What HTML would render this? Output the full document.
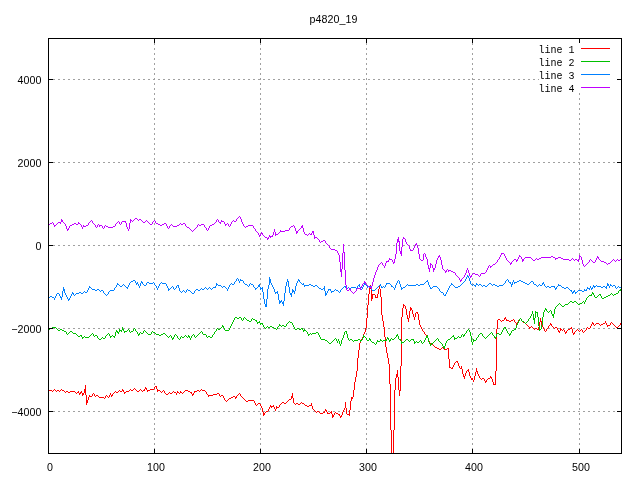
<!DOCTYPE html>
<html><head><meta charset="utf-8"><title>p4820_19</title>
<style>html,body{margin:0;padding:0;background:#fff;overflow:hidden;}svg{display:block;will-change:transform;}text{font-family:"Liberation Sans",sans-serif;font-size:10.67px;letter-spacing:0.07px;fill:#000;}.k{font-family:"Liberation Mono",monospace;font-size:10px;letter-spacing:0;}</style></head><body>
<svg width="640" height="480" viewBox="0 0 640 480">
<rect width="640" height="480" fill="#fff"/>
<g stroke="#a0a0a0" stroke-width="1" stroke-dasharray="2 3" stroke-dashoffset="0" shape-rendering="crispEdges" fill="none">
<path d="M53 79.5 H621"/>
<path d="M53 162.5 H621"/>
<path d="M53 245.5 H621"/>
<path d="M53 328.5 H621"/>
<path d="M53 411.5 H621"/>
<path d="M154.5 450 V39"/>
<path d="M260.5 450 V39"/>
<path d="M366.5 450 V39"/>
<path d="M472.5 450 V39"/>
<path d="M579.5 450 V39"/>
</g>
<rect x="539" y="43" width="76" height="50" fill="#fff"/>
<path d="M49.5 390v1M50.5 390v1M51.5 390v1M52.5 391v1M53.5 390v1M54.5 389v1M55.5 390v1M56.5 391v1M57.5 390v1M58.5 390v1M59.5 391v1M60.5 390v1M61.5 389v1M62.5 390v1M63.5 390v1M64.5 391v1M65.5 392v1M66.5 391v1M67.5 391v1M68.5 392v1M69.5 392v1M70.5 391v1M71.5 391v1M72.5 391v1M73.5 391v1M74.5 391v1M75.5 392v1M76.5 393v1M77.5 392v1M78.5 391v2M79.5 393v2M80.5 392v2M81.5 391v2M82.5 393v3M83.5 393v2M84.5 389v4M85.5 385v10M86.5 395v10M87.5 400v3M88.5 397v3M89.5 395v2M90.5 396v1M91.5 396v1M92.5 394v2M93.5 393v1M94.5 394v2M95.5 396v1M96.5 395v1M97.5 395v1M98.5 396v1M99.5 397v1M100.5 397v1M101.5 397v1M102.5 397v1M103.5 397v1M104.5 398v1M105.5 396v2M106.5 395v1M107.5 396v1M108.5 397v1M109.5 395v2M110.5 393v2M111.5 395v2M112.5 394v2M113.5 393v1M114.5 392v1M115.5 391v1M116.5 392v1M117.5 392v1M118.5 391v1M119.5 390v1M120.5 391v1M121.5 391v1M122.5 389v2M123.5 390v2M124.5 392v2M125.5 392v1M126.5 391v1M127.5 391v1M128.5 391v1M129.5 390v1M130.5 389v1M131.5 390v1M132.5 390v1M133.5 389v1M134.5 388v1M135.5 389v1M136.5 390v1M137.5 391v1M138.5 391v1M139.5 390v1M140.5 389v1M141.5 390v1M142.5 391v1M143.5 390v1M144.5 389v2M145.5 387v2M146.5 388v2M147.5 390v2M148.5 390v1M149.5 390v1M150.5 389v1M151.5 389v1M152.5 389v1M153.5 389v1M154.5 387v2M155.5 386v1M156.5 386v3M157.5 389v3M158.5 390v1M159.5 390v1M160.5 391v1M161.5 392v1M162.5 391v1M163.5 390v1M164.5 391v2M165.5 393v1M166.5 394v1M167.5 394v1M168.5 393v1M169.5 392v1M170.5 393v1M171.5 393v1M172.5 392v1M173.5 391v1M174.5 392v1M175.5 392v1M176.5 393v2M177.5 391v2M178.5 392v1M179.5 393v1M180.5 391v2M181.5 392v1M182.5 393v1M183.5 392v1M184.5 391v1M185.5 390v1M186.5 390v1M187.5 390v1M188.5 391v1M189.5 391v1M190.5 392v1M191.5 392v2M192.5 394v2M193.5 393v2M194.5 391v2M195.5 391v1M196.5 391v1M197.5 390v1M198.5 390v1M199.5 391v1M200.5 390v1M201.5 389v1M202.5 390v1M203.5 390v1M204.5 390v1M205.5 391v1M206.5 392v2M207.5 394v1M208.5 395v2M209.5 395v1M210.5 395v1M211.5 395v1M212.5 395v1M213.5 394v1M214.5 394v1M215.5 394v1M216.5 394v1M217.5 393v1M218.5 393v1M219.5 394v2M220.5 396v1M221.5 395v1M222.5 395v1M223.5 396v2M224.5 398v2M225.5 400v1M226.5 401v1M227.5 400v1M228.5 399v1M229.5 398v1M230.5 398v1M231.5 397v1M232.5 397v1M233.5 396v1M234.5 396v1M235.5 397v2M236.5 396v2M237.5 395v1M238.5 394v1M239.5 393v1M240.5 394v2M241.5 396v1M242.5 397v1M243.5 398v1M244.5 399v1M245.5 400v1M246.5 401v1M247.5 401v1M248.5 400v1M249.5 400v1M250.5 400v1M251.5 400v1M252.5 400v1M253.5 400v1M254.5 401v2M255.5 403v2M256.5 405v1M257.5 404v1M258.5 403v1M259.5 403v1M260.5 404v2M261.5 406v2M262.5 408v4M263.5 412v4M264.5 413v2M265.5 412v1M266.5 411v1M267.5 411v1M268.5 409v2M269.5 407v2M270.5 405v2M271.5 406v2M272.5 406v1M273.5 405v2M274.5 407v2M275.5 409v2M276.5 406v3M277.5 407v1M278.5 407v1M279.5 405v2M280.5 404v1M281.5 403v1M282.5 402v1M283.5 402v1M284.5 403v1M285.5 403v1M286.5 402v1M287.5 401v1M288.5 400v1M289.5 399v1M290.5 399v1M291.5 396v3M292.5 393v5M293.5 398v5M294.5 403v1M295.5 404v1M296.5 403v1M297.5 403v1M298.5 404v1M299.5 404v1M300.5 403v1M301.5 402v1M302.5 403v1M303.5 403v1M304.5 404v1M305.5 405v1M306.5 405v1M307.5 406v1M308.5 406v1M309.5 405v1M310.5 405v1M311.5 403v3M312.5 406v3M313.5 409v1M314.5 410v1M315.5 411v1M316.5 412v1M317.5 411v1M318.5 411v1M319.5 412v1M320.5 413v1M321.5 413v1M322.5 413v1M323.5 412v1M324.5 411v2M325.5 409v2M326.5 410v2M327.5 412v2M328.5 413v1M329.5 413v1M330.5 412v1M331.5 411v3M332.5 414v4M333.5 415v2M334.5 413v2M335.5 412v1M336.5 413v1M337.5 413v1M338.5 414v1M339.5 414v2M340.5 416v2M341.5 415v2M342.5 412v3M343.5 410v2M344.5 408v2M345.5 402v6M346.5 408v6M347.5 414v1M348.5 414v1M349.5 410v6M350.5 401v9M351.5 397v4M352.5 397v2M353.5 390v7M354.5 382v8M355.5 377v5M356.5 371v6M357.5 358v13M358.5 350v8M359.5 343v7M360.5 341v2M361.5 339v2M362.5 337v2M363.5 334v3M364.5 332v2M365.5 328v4M366.5 318v10M367.5 305v13M368.5 294v11M369.5 288v6M370.5 285v4M371.5 289v12M372.5 294v5M373.5 294v1M374.5 294v1M375.5 295v3M376.5 297v1M377.5 294v4M378.5 289v5M379.5 286v3M380.5 289v8M381.5 297v18M382.5 315v6M383.5 321v6M384.5 327v10M385.5 337v10M386.5 347v6M387.5 353v5M388.5 358v6M389.5 364v20M390.5 384v46M391.5 430v23M393.5 430v23M394.5 390v40M395.5 378v12M396.5 374v4M397.5 370v7M398.5 377v13M399.5 390v6M400.5 366v25M401.5 317v49M402.5 308v9M403.5 304v4M404.5 305v1M405.5 306v3M406.5 309v6M407.5 315v4M408.5 318v4M409.5 311v7M410.5 307v4M411.5 308v2M412.5 310v4M413.5 314v3M414.5 317v3M415.5 313v4M416.5 312v1M417.5 312v2M418.5 314v6M419.5 320v5M420.5 325v2M421.5 327v2M422.5 329v2M423.5 331v1M424.5 332v2M425.5 334v1M426.5 335v1M427.5 336v2M428.5 338v3M429.5 341v3M430.5 343v1M431.5 344v1M432.5 344v1M433.5 345v1M434.5 346v1M435.5 347v1M436.5 347v1M437.5 348v1M438.5 348v1M439.5 349v1M440.5 349v1M441.5 348v1M442.5 347v1M443.5 348v1M444.5 349v1M445.5 349v1M446.5 349v1M447.5 348v1M448.5 348v11M449.5 359v9M450.5 367v1M451.5 368v1M452.5 367v2M453.5 365v2M454.5 363v2M455.5 362v1M456.5 361v1M457.5 361v2M458.5 363v3M459.5 366v2M460.5 368v1M461.5 366v3M462.5 369v5M463.5 374v3M464.5 376v3M465.5 373v3M466.5 371v2M467.5 370v1M468.5 369v3M469.5 372v4M470.5 376v2M471.5 378v2M472.5 378v2M473.5 380v2M474.5 376v4M475.5 372v4M476.5 368v4M477.5 371v3M478.5 374v2M479.5 376v2M480.5 378v1M481.5 379v1M482.5 378v1M483.5 378v1M484.5 379v2M485.5 381v2M486.5 380v2M487.5 379v1M488.5 378v1M489.5 378v1M490.5 376v2M491.5 377v2M492.5 379v3M493.5 382v3M494.5 384v1M495.5 371v14M496.5 329v42M497.5 320v9M498.5 319v1M499.5 319v1M500.5 320v1M501.5 321v1M502.5 320v1M503.5 320v1M504.5 318v2M505.5 317v2M506.5 319v2M507.5 320v1M508.5 320v1M509.5 321v1M510.5 321v1M511.5 320v1M512.5 320v1M513.5 319v1M514.5 320v2M515.5 322v1M516.5 323v2M517.5 322v2M518.5 320v2M519.5 319v1M520.5 318v1M521.5 319v2M522.5 321v1M523.5 322v1M524.5 322v1M525.5 323v1M526.5 324v1M527.5 325v1M528.5 326v1M529.5 327v2M530.5 327v1M531.5 326v1M532.5 327v1M533.5 328v1M534.5 329v1M535.5 328v1M536.5 328v1M537.5 329v1M538.5 327v3M539.5 322v5M540.5 318v4M541.5 321v4M542.5 325v2M543.5 327v2M544.5 329v2M545.5 331v1M546.5 329v2M547.5 328v1M548.5 326v2M549.5 325v1M550.5 323v2M551.5 324v2M552.5 326v1M553.5 327v1M554.5 328v1M555.5 327v1M556.5 327v1M557.5 328v2M558.5 330v2M559.5 331v2M560.5 328v3M561.5 329v1M562.5 330v1M563.5 329v1M564.5 330v2M565.5 332v2M566.5 331v2M567.5 330v1M568.5 329v1M569.5 329v1M570.5 328v1M571.5 327v2M572.5 329v4M573.5 333v2M574.5 332v2M575.5 331v1M576.5 330v1M577.5 329v1M578.5 330v1M579.5 331v1M580.5 330v1M581.5 329v1M582.5 330v2M583.5 332v1M584.5 331v1M585.5 330v1M586.5 328v2M587.5 327v1M588.5 328v1M589.5 328v1M590.5 326v2M591.5 324v2M592.5 322v2M593.5 323v2M594.5 325v1M595.5 324v1M596.5 323v1M597.5 323v1M598.5 323v1M599.5 324v1M600.5 325v1M601.5 324v1M602.5 324v1M603.5 323v1M604.5 323v1M605.5 321v2M606.5 323v2M607.5 325v2M608.5 325v1M609.5 325v1M610.5 323v2M611.5 322v1M612.5 323v1M613.5 324v1M614.5 325v1M615.5 326v1M616.5 327v1M617.5 327v1M618.5 326v1M619.5 325v1M620.5 323v2" fill="none" stroke="#ff0000" stroke-width="1" shape-rendering="crispEdges"/>
<path d="M49.5 329v1M50.5 328v1M51.5 328v1M52.5 327v1M53.5 327v1M54.5 327v1M55.5 327v1M56.5 328v1M57.5 329v1M58.5 330v1M59.5 330v1M60.5 329v1M61.5 329v1M62.5 330v1M63.5 330v1M64.5 331v1M65.5 331v1M66.5 332v2M67.5 334v1M68.5 333v1M69.5 332v1M70.5 331v1M71.5 331v1M72.5 332v1M73.5 333v1M74.5 333v1M75.5 333v1M76.5 334v1M77.5 335v1M78.5 336v1M79.5 336v1M80.5 335v1M81.5 335v2M82.5 337v2M83.5 337v1M84.5 336v1M85.5 337v1M86.5 337v1M87.5 337v1M88.5 337v1M89.5 336v1M90.5 335v1M91.5 334v1M92.5 333v1M93.5 334v2M94.5 336v1M95.5 335v1M96.5 335v1M97.5 336v2M98.5 338v1M99.5 339v1M100.5 339v1M101.5 338v1M102.5 337v1M103.5 338v1M104.5 338v1M105.5 336v2M106.5 335v1M107.5 334v1M108.5 333v1M109.5 334v2M110.5 336v2M111.5 336v1M112.5 335v1M113.5 336v1M114.5 336v2M115.5 332v4M116.5 330v2M117.5 331v2M118.5 332v2M119.5 329v3M120.5 330v1M121.5 330v2M122.5 327v3M123.5 329v2M124.5 331v2M125.5 331v1M126.5 331v1M127.5 330v1M128.5 329v1M129.5 330v2M130.5 332v1M131.5 331v1M132.5 331v1M133.5 329v2M134.5 328v1M135.5 329v2M136.5 331v1M137.5 332v2M138.5 334v2M139.5 333v2M140.5 332v1M141.5 333v1M142.5 333v1M143.5 331v2M144.5 330v1M145.5 331v1M146.5 332v1M147.5 333v1M148.5 334v1M149.5 334v1M150.5 334v1M151.5 332v2M152.5 331v1M153.5 332v1M154.5 332v1M155.5 333v1M156.5 334v1M157.5 334v1M158.5 334v1M159.5 335v1M160.5 335v1M161.5 334v1M162.5 334v1M163.5 333v1M164.5 333v1M165.5 334v1M166.5 335v1M167.5 336v1M168.5 337v1M169.5 336v1M170.5 335v1M171.5 336v2M172.5 338v2M173.5 337v2M174.5 335v2M175.5 334v1M176.5 335v1M177.5 336v2M178.5 338v1M179.5 339v1M180.5 337v2M181.5 336v1M182.5 337v1M183.5 337v1M184.5 336v1M185.5 335v1M186.5 336v1M187.5 337v1M188.5 335v2M189.5 336v2M190.5 338v2M191.5 336v2M192.5 335v1M193.5 334v1M194.5 335v2M195.5 337v1M196.5 336v1M197.5 335v1M198.5 334v1M199.5 333v1M200.5 332v1M201.5 331v1M202.5 332v2M203.5 334v1M204.5 334v1M205.5 334v1M206.5 335v2M207.5 337v1M208.5 336v1M209.5 336v1M210.5 337v1M211.5 337v1M212.5 335v2M213.5 334v1M214.5 332v2M215.5 331v1M216.5 329v2M217.5 328v1M218.5 329v1M219.5 329v1M220.5 328v1M221.5 327v1M222.5 325v2M223.5 326v2M224.5 328v2M225.5 330v1M226.5 330v1M227.5 330v1M228.5 330v1M229.5 328v2M230.5 326v2M231.5 324v2M232.5 322v2M233.5 320v2M234.5 318v2M235.5 317v1M236.5 317v1M237.5 318v1M238.5 318v1M239.5 317v1M240.5 317v1M241.5 318v2M242.5 320v1M243.5 318v2M244.5 317v1M245.5 318v1M246.5 319v1M247.5 320v1M248.5 320v1M249.5 321v1M250.5 321v1M251.5 319v2M252.5 318v1M253.5 319v1M254.5 319v1M255.5 320v1M256.5 320v2M257.5 322v2M258.5 322v1M259.5 321v2M260.5 323v2M261.5 323v1M262.5 323v2M263.5 325v2M264.5 327v1M265.5 328v1M266.5 327v1M267.5 326v1M268.5 327v1M269.5 327v1M270.5 326v1M271.5 326v1M272.5 327v1M273.5 327v1M274.5 328v1M275.5 328v1M276.5 329v1M277.5 327v2M278.5 326v1M279.5 324v2M280.5 325v1M281.5 326v1M282.5 325v1M283.5 325v1M284.5 326v1M285.5 326v1M286.5 324v2M287.5 323v1M288.5 322v1M289.5 321v1M290.5 322v1M291.5 322v1M292.5 323v2M293.5 325v2M294.5 327v2M295.5 329v1M296.5 329v1M297.5 328v1M298.5 328v1M299.5 329v1M300.5 329v1M301.5 328v1M302.5 328v2M303.5 330v2M304.5 329v2M305.5 330v1M306.5 331v1M307.5 332v2M308.5 334v2M309.5 334v1M310.5 333v1M311.5 334v1M312.5 333v1M313.5 333v1M314.5 333v1M315.5 333v1M316.5 332v1M317.5 332v1M318.5 333v2M319.5 335v2M320.5 337v2M321.5 339v1M322.5 339v1M323.5 339v1M324.5 339v1M325.5 340v1M326.5 340v1M327.5 341v1M328.5 342v1M329.5 343v1M330.5 343v1M331.5 342v1M332.5 341v1M333.5 340v1M334.5 339v1M335.5 338v1M336.5 339v2M337.5 341v2M338.5 339v2M339.5 341v3M340.5 344v2M341.5 340v4M342.5 338v2M343.5 335v3M344.5 332v3M345.5 331v1M346.5 331v3M347.5 334v4M348.5 338v2M349.5 340v1M350.5 339v1M351.5 339v1M352.5 340v1M353.5 341v1M354.5 340v1M355.5 340v1M356.5 340v1M357.5 340v1M358.5 339v1M359.5 339v1M360.5 340v2M361.5 340v1M362.5 338v2M363.5 335v3M364.5 336v1M365.5 337v1M366.5 338v2M367.5 340v1M368.5 340v1M369.5 338v2M370.5 339v2M371.5 341v1M372.5 342v1M373.5 342v1M374.5 343v1M375.5 344v1M376.5 342v2M377.5 340v2M378.5 341v1M379.5 341v1M380.5 339v2M381.5 340v1M382.5 341v1M383.5 340v1M384.5 340v1M385.5 340v1M386.5 339v2M387.5 337v2M388.5 338v2M389.5 340v2M390.5 339v2M391.5 338v1M392.5 339v1M393.5 339v1M394.5 338v1M395.5 337v1M396.5 335v2M397.5 334v2M398.5 336v3M399.5 339v1M400.5 339v2M401.5 341v3M402.5 342v1M403.5 342v1M404.5 341v1M405.5 340v1M406.5 339v1M407.5 339v1M408.5 340v1M409.5 341v1M410.5 340v1M411.5 339v1M412.5 339v1M413.5 339v2M414.5 341v3M415.5 342v1M416.5 341v1M417.5 342v1M418.5 342v1M419.5 341v1M420.5 340v1M421.5 341v2M422.5 343v1M423.5 342v1M424.5 340v2M425.5 338v2M426.5 336v2M427.5 335v3M428.5 338v4M429.5 342v2M430.5 344v2M431.5 343v2M432.5 343v1M433.5 342v1M434.5 341v1M435.5 340v1M436.5 339v1M437.5 338v1M438.5 339v2M439.5 341v1M440.5 342v1M441.5 343v1M442.5 344v2M443.5 346v2M444.5 346v3M445.5 343v3M446.5 341v2M447.5 340v1M448.5 339v1M449.5 339v1M450.5 338v1M451.5 337v1M452.5 336v1M453.5 335v2M454.5 337v3M455.5 338v1M456.5 338v1M457.5 337v1M458.5 336v1M459.5 337v1M460.5 337v1M461.5 335v2M462.5 334v1M463.5 335v2M464.5 334v2M465.5 333v1M466.5 331v2M467.5 330v1M468.5 329v1M469.5 330v2M470.5 332v4M471.5 336v6M472.5 342v3M473.5 339v3M474.5 340v1M475.5 340v1M476.5 338v2M477.5 337v1M478.5 335v2M479.5 334v1M480.5 333v1M481.5 333v1M482.5 334v2M483.5 336v1M484.5 337v1M485.5 338v1M486.5 337v1M487.5 336v1M488.5 335v1M489.5 334v1M490.5 333v1M491.5 332v1M492.5 333v2M493.5 335v1M494.5 336v2M495.5 337v2M496.5 334v3M497.5 333v1M498.5 333v1M499.5 334v1M500.5 334v1M501.5 332v2M502.5 330v2M503.5 328v2M504.5 327v1M505.5 327v2M506.5 329v2M507.5 331v2M508.5 333v1M509.5 334v2M510.5 333v2M511.5 331v2M512.5 330v1M513.5 330v1M514.5 329v1M515.5 328v2M516.5 325v3M517.5 323v2M518.5 321v2M519.5 319v2M520.5 318v1M521.5 319v2M522.5 321v1M523.5 321v1M524.5 322v1M525.5 323v1M526.5 322v1M527.5 321v1M528.5 319v2M529.5 318v1M530.5 316v2M531.5 314v2M532.5 311v3M533.5 314v6M534.5 318v6M535.5 311v7M536.5 312v1M537.5 312v5M538.5 317v9M539.5 326v5M540.5 329v1M541.5 325v4M542.5 317v8M543.5 312v5M544.5 310v2M545.5 308v2M546.5 309v2M547.5 311v1M548.5 312v1M549.5 311v1M550.5 310v1M551.5 311v3M552.5 314v2M553.5 314v4M554.5 309v5M555.5 307v2M556.5 306v1M557.5 305v1M558.5 304v1M559.5 303v1M560.5 304v1M561.5 305v1M562.5 306v1M563.5 306v1M564.5 305v1M565.5 304v1M566.5 304v1M567.5 304v1M568.5 303v1M569.5 302v1M570.5 301v1M571.5 301v1M572.5 302v1M573.5 302v1M574.5 301v1M575.5 301v1M576.5 302v1M577.5 303v1M578.5 304v1M579.5 304v1M580.5 303v1M581.5 303v1M582.5 302v1M583.5 301v1M584.5 302v2M585.5 300v2M586.5 298v2M587.5 297v1M588.5 296v1M589.5 295v1M590.5 295v1M591.5 294v2M592.5 292v2M593.5 293v2M594.5 295v2M595.5 297v1M596.5 297v1M597.5 296v1M598.5 295v1M599.5 294v1M600.5 294v2M601.5 296v2M602.5 298v1M603.5 298v1M604.5 297v1M605.5 297v1M606.5 296v1M607.5 296v1M608.5 295v1M609.5 295v1M610.5 294v1M611.5 293v1M612.5 294v1M613.5 295v1M614.5 294v1M615.5 294v1M616.5 293v1M617.5 293v1M618.5 291v2M619.5 290v1M620.5 289v2" fill="none" stroke="#00c000" stroke-width="1" shape-rendering="crispEdges"/>
<path d="M49.5 297v1M50.5 296v1M51.5 296v1M52.5 297v1M53.5 297v1M54.5 298v2M55.5 296v2M56.5 294v2M57.5 293v1M58.5 293v1M59.5 294v2M60.5 296v2M61.5 297v3M62.5 291v6M63.5 287v4M64.5 289v4M65.5 293v2M66.5 295v2M67.5 297v2M68.5 299v2M69.5 298v2M70.5 296v2M71.5 294v2M72.5 292v2M73.5 293v2M74.5 295v1M75.5 294v1M76.5 293v1M77.5 293v1M78.5 293v1M79.5 292v1M80.5 292v1M81.5 293v1M82.5 293v1M83.5 292v1M84.5 291v1M85.5 292v1M86.5 292v1M87.5 290v2M88.5 288v2M89.5 286v2M90.5 287v1M91.5 288v1M92.5 289v1M93.5 289v1M94.5 289v1M95.5 290v1M96.5 290v1M97.5 289v1M98.5 289v1M99.5 290v1M100.5 291v1M101.5 290v1M102.5 290v1M103.5 291v2M104.5 293v1M105.5 294v1M106.5 295v1M107.5 294v1M108.5 292v2M109.5 291v1M110.5 290v1M111.5 290v1M112.5 290v1M113.5 290v1M114.5 288v2M115.5 287v1M116.5 285v2M117.5 283v2M118.5 284v1M119.5 285v1M120.5 286v1M121.5 286v1M122.5 285v1M123.5 284v1M124.5 285v1M125.5 286v1M126.5 287v1M127.5 287v2M128.5 285v2M129.5 283v2M130.5 282v1M131.5 281v1M132.5 281v1M133.5 280v1M134.5 280v1M135.5 281v2M136.5 283v2M137.5 282v2M138.5 284v2M139.5 286v2M140.5 283v3M141.5 281v2M142.5 282v2M143.5 284v1M144.5 285v1M145.5 285v1M146.5 283v2M147.5 282v1M148.5 282v1M149.5 283v1M150.5 283v1M151.5 283v1M152.5 283v1M153.5 282v1M154.5 283v2M155.5 285v1M156.5 286v2M157.5 288v2M158.5 286v2M159.5 284v2M160.5 283v1M161.5 282v1M162.5 283v1M163.5 283v1M164.5 283v1M165.5 283v1M166.5 284v2M167.5 286v2M168.5 288v3M169.5 289v1M170.5 288v1M171.5 287v1M172.5 286v1M173.5 287v2M174.5 289v1M175.5 288v1M176.5 286v2M177.5 285v1M178.5 285v3M179.5 288v3M180.5 291v1M181.5 292v1M182.5 291v1M183.5 290v1M184.5 291v1M185.5 292v1M186.5 290v2M187.5 289v1M188.5 290v1M189.5 290v1M190.5 291v1M191.5 292v1M192.5 293v1M193.5 293v1M194.5 291v2M195.5 290v1M196.5 289v1M197.5 289v1M198.5 290v1M199.5 290v1M200.5 289v1M201.5 288v1M202.5 289v1M203.5 289v1M204.5 288v1M205.5 287v1M206.5 288v1M207.5 289v1M208.5 288v1M209.5 287v1M210.5 288v1M211.5 289v1M212.5 288v1M213.5 287v1M214.5 287v1M215.5 286v2M216.5 283v3M217.5 284v1M218.5 285v1M219.5 285v1M220.5 285v1M221.5 286v1M222.5 287v1M223.5 286v1M224.5 286v1M225.5 287v1M226.5 288v1M227.5 289v2M228.5 287v2M229.5 285v2M230.5 284v1M231.5 283v1M232.5 284v1M233.5 284v1M234.5 282v2M235.5 281v1M236.5 279v2M237.5 278v1M238.5 279v2M239.5 281v2M240.5 279v2M241.5 280v1M242.5 280v1M243.5 281v2M244.5 283v1M245.5 284v1M246.5 284v1M247.5 285v1M248.5 286v1M249.5 284v2M250.5 283v1M251.5 284v1M252.5 284v1M253.5 285v2M254.5 287v1M255.5 288v2M256.5 288v1M257.5 287v1M258.5 285v2M259.5 284v3M260.5 287v3M261.5 288v1M262.5 287v5M263.5 292v7M264.5 299v5M265.5 304v3M266.5 299v8M267.5 289v10M268.5 285v4M269.5 277v8M270.5 279v4M271.5 283v2M272.5 285v2M273.5 287v2M274.5 289v3M275.5 292v2M276.5 292v1M277.5 291v3M278.5 294v6M279.5 300v4M280.5 301v2M281.5 300v2M282.5 302v2M283.5 301v5M284.5 293v8M285.5 286v7M286.5 282v4M287.5 279v3M288.5 281v6M289.5 287v6M290.5 293v2M291.5 293v4M292.5 289v4M293.5 290v2M294.5 291v3M295.5 286v5M296.5 283v3M297.5 281v2M298.5 279v2M299.5 280v2M300.5 282v1M301.5 283v1M302.5 284v1M303.5 283v2M304.5 285v2M305.5 285v1M306.5 285v1M307.5 285v1M308.5 285v1M309.5 284v1M310.5 284v1M311.5 285v1M312.5 285v1M313.5 286v1M314.5 286v1M315.5 285v1M316.5 285v1M317.5 286v1M318.5 287v1M319.5 288v1M320.5 288v1M321.5 289v1M322.5 289v1M323.5 288v1M324.5 286v5M325.5 291v5M326.5 293v2M327.5 291v2M328.5 289v2M329.5 289v1M330.5 289v2M331.5 291v2M332.5 291v1M333.5 291v1M334.5 290v1M335.5 289v1M336.5 290v1M337.5 290v1M338.5 291v1M339.5 292v1M340.5 290v2M341.5 289v1M342.5 288v1M343.5 287v1M344.5 286v1M345.5 286v2M346.5 288v2M347.5 288v1M348.5 287v1M349.5 288v1M350.5 288v1M351.5 287v1M352.5 287v1M353.5 287v1M354.5 287v1M355.5 287v1M356.5 288v1M357.5 286v2M358.5 285v1M359.5 284v3M360.5 287v2M361.5 289v1M362.5 287v2M363.5 285v2M364.5 283v2M365.5 284v1M366.5 285v1M367.5 286v2M368.5 286v1M369.5 286v1M370.5 286v2M371.5 288v2M372.5 290v1M373.5 290v1M374.5 290v1M375.5 289v1M376.5 288v1M377.5 287v1M378.5 286v1M379.5 285v1M380.5 284v2M381.5 286v2M382.5 287v1M383.5 286v1M384.5 287v1M385.5 285v2M386.5 283v2M387.5 283v1M388.5 283v1M389.5 283v1M390.5 284v1M391.5 285v2M392.5 286v1M393.5 287v1M394.5 288v2M395.5 285v3M396.5 283v2M397.5 281v2M398.5 280v1M399.5 281v3M400.5 284v3M401.5 287v3M402.5 288v1M403.5 287v1M404.5 287v1M405.5 286v1M406.5 285v1M407.5 284v1M408.5 285v1M409.5 285v1M410.5 285v1M411.5 285v1M412.5 285v1M413.5 285v1M414.5 285v1M415.5 285v1M416.5 284v1M417.5 284v1M418.5 285v1M419.5 285v1M420.5 284v1M421.5 284v1M422.5 284v1M423.5 284v1M424.5 283v1M425.5 282v1M426.5 281v1M427.5 280v2M428.5 282v3M429.5 285v2M430.5 287v2M431.5 288v1M432.5 287v1M433.5 286v1M434.5 286v1M435.5 286v1M436.5 286v1M437.5 287v1M438.5 288v1M439.5 289v2M440.5 291v1M441.5 292v1M442.5 292v1M443.5 293v2M444.5 295v1M445.5 294v2M446.5 292v2M447.5 290v2M448.5 288v2M449.5 286v2M450.5 285v1M451.5 283v2M452.5 284v1M453.5 285v1M454.5 286v1M455.5 287v1M456.5 287v1M457.5 287v1M458.5 286v1M459.5 286v1M460.5 285v1M461.5 284v1M462.5 283v1M463.5 282v1M464.5 281v1M465.5 279v2M466.5 277v2M467.5 275v2M468.5 276v2M469.5 278v3M470.5 281v3M471.5 284v1M472.5 285v1M473.5 284v1M474.5 285v1M475.5 285v2M476.5 283v2M477.5 284v1M478.5 285v1M479.5 284v1M480.5 284v1M481.5 285v1M482.5 286v1M483.5 285v1M484.5 285v1M485.5 286v1M486.5 286v1M487.5 285v1M488.5 284v1M489.5 283v1M490.5 283v1M491.5 284v1M492.5 285v1M493.5 284v1M494.5 284v1M495.5 285v1M496.5 285v1M497.5 286v1M498.5 286v1M499.5 285v1M500.5 285v1M501.5 285v1M502.5 285v1M503.5 284v1M504.5 283v1M505.5 281v2M506.5 280v1M507.5 279v1M508.5 280v2M509.5 282v1M510.5 282v2M511.5 284v3M512.5 282v3M513.5 280v2M514.5 282v2M515.5 282v1M516.5 282v1M517.5 281v1M518.5 281v1M519.5 280v1M520.5 280v1M521.5 281v1M522.5 281v1M523.5 282v1M524.5 282v1M525.5 283v1M526.5 283v1M527.5 284v1M528.5 284v1M529.5 283v1M530.5 282v1M531.5 281v1M532.5 281v1M533.5 282v2M534.5 284v1M535.5 284v1M536.5 285v1M537.5 286v1M538.5 285v1M539.5 284v1M540.5 285v1M541.5 285v1M542.5 283v2M543.5 282v2M544.5 284v2M545.5 286v1M546.5 287v1M547.5 286v1M548.5 286v1M549.5 287v1M550.5 287v1M551.5 286v1M552.5 286v1M553.5 286v1M554.5 286v2M555.5 288v2M556.5 287v2M557.5 286v1M558.5 284v2M559.5 285v1M560.5 285v1M561.5 286v1M562.5 287v1M563.5 287v1M564.5 288v1M565.5 288v1M566.5 287v1M567.5 287v1M568.5 288v1M569.5 289v1M570.5 290v1M571.5 290v2M572.5 292v2M573.5 291v2M574.5 290v2M575.5 292v2M576.5 292v1M577.5 291v1M578.5 290v1M579.5 290v1M580.5 290v1M581.5 290v1M582.5 291v1M583.5 291v1M584.5 289v2M585.5 290v1M586.5 289v2M587.5 287v2M588.5 288v1M589.5 288v2M590.5 286v2M591.5 288v2M592.5 287v2M593.5 285v2M594.5 286v2M595.5 286v1M596.5 285v1M597.5 286v1M598.5 286v1M599.5 286v1M600.5 286v1M601.5 287v1M602.5 287v1M603.5 286v1M604.5 286v1M605.5 287v1M606.5 286v3M607.5 283v3M608.5 284v2M609.5 286v2M610.5 284v2M611.5 285v1M612.5 286v1M613.5 285v1M614.5 285v1M615.5 286v2M616.5 288v1M617.5 287v1M618.5 286v1M619.5 287v1M620.5 287v1" fill="none" stroke="#0080ff" stroke-width="1" shape-rendering="crispEdges"/>
<path d="M49.5 224v1M50.5 223v1M51.5 223v1M52.5 222v1M53.5 223v2M54.5 225v2M55.5 225v1M56.5 224v1M57.5 223v1M58.5 222v1M59.5 222v1M60.5 222v2M61.5 219v3M62.5 220v2M63.5 222v1M64.5 223v1M65.5 224v2M66.5 226v3M67.5 229v2M68.5 228v2M69.5 226v2M70.5 225v1M71.5 225v1M72.5 224v1M73.5 224v1M74.5 223v1M75.5 223v1M76.5 224v1M77.5 224v1M78.5 222v2M79.5 223v1M80.5 224v1M81.5 225v2M82.5 227v2M83.5 225v2M84.5 226v1M85.5 226v1M86.5 225v1M87.5 225v1M88.5 223v2M89.5 222v1M90.5 221v1M91.5 220v1M92.5 221v2M93.5 223v1M94.5 224v1M95.5 225v2M96.5 227v1M97.5 225v2M98.5 224v1M99.5 225v2M100.5 225v1M101.5 225v1M102.5 226v2M103.5 228v1M104.5 226v2M105.5 225v1M106.5 226v1M107.5 226v1M108.5 227v1M109.5 227v1M110.5 227v1M111.5 227v1M112.5 227v1M113.5 226v1M114.5 226v1M115.5 224v2M116.5 223v1M117.5 222v1M118.5 221v1M119.5 222v2M120.5 224v1M121.5 222v2M122.5 221v1M123.5 221v1M124.5 221v1M125.5 221v2M126.5 223v4M127.5 227v2M128.5 229v2M129.5 223v6M130.5 219v4M131.5 220v1M132.5 221v1M133.5 220v1M134.5 219v1M135.5 218v1M136.5 218v1M137.5 219v1M138.5 220v1M139.5 219v1M140.5 219v1M141.5 220v1M142.5 221v1M143.5 222v1M144.5 222v1M145.5 221v1M146.5 220v1M147.5 221v1M148.5 222v1M149.5 223v1M150.5 224v1M151.5 224v1M152.5 222v2M153.5 221v1M154.5 220v1M155.5 221v2M156.5 223v1M157.5 223v1M158.5 224v1M159.5 224v1M160.5 225v1M161.5 225v1M162.5 224v1M163.5 224v1M164.5 223v1M165.5 223v1M166.5 224v2M167.5 226v2M168.5 228v1M169.5 226v2M170.5 225v1M171.5 224v1M172.5 225v1M173.5 226v1M174.5 226v1M175.5 226v1M176.5 226v1M177.5 225v1M178.5 225v1M179.5 224v1M180.5 223v1M181.5 224v1M182.5 224v1M183.5 223v1M184.5 223v1M185.5 224v2M186.5 226v1M187.5 227v1M188.5 227v1M189.5 228v1M190.5 229v1M191.5 230v1M192.5 231v1M193.5 230v1M194.5 229v1M195.5 228v1M196.5 227v1M197.5 225v2M198.5 224v1M199.5 225v1M200.5 225v1M201.5 224v1M202.5 224v1M203.5 224v1M204.5 225v2M205.5 227v1M206.5 228v2M207.5 230v1M208.5 228v2M209.5 226v2M210.5 225v1M211.5 225v1M212.5 224v1M213.5 224v1M214.5 223v1M215.5 222v1M216.5 220v2M217.5 219v1M218.5 220v2M219.5 222v1M220.5 222v2M221.5 220v2M222.5 221v1M223.5 221v1M224.5 222v2M225.5 224v2M226.5 224v1M227.5 223v1M228.5 224v2M229.5 226v1M230.5 224v2M231.5 222v2M232.5 221v1M233.5 220v1M234.5 221v1M235.5 221v1M236.5 219v2M237.5 218v1M238.5 217v1M239.5 216v1M240.5 217v2M241.5 219v3M242.5 222v2M243.5 224v2M244.5 226v1M245.5 227v1M246.5 226v1M247.5 226v1M248.5 225v1M249.5 225v1M250.5 225v1M251.5 225v1M252.5 225v1M253.5 226v2M254.5 228v1M255.5 229v2M256.5 231v1M257.5 232v1M258.5 233v2M259.5 235v2M260.5 234v2M261.5 232v2M262.5 233v2M263.5 235v1M264.5 236v1M265.5 237v1M266.5 237v1M267.5 238v2M268.5 237v2M269.5 235v2M270.5 236v2M271.5 236v1M272.5 235v2M273.5 232v3M274.5 229v3M275.5 232v4M276.5 234v1M277.5 234v1M278.5 233v1M279.5 232v1M280.5 230v2M281.5 231v1M282.5 231v1M283.5 231v1M284.5 231v1M285.5 230v1M286.5 230v1M287.5 230v1M288.5 230v1M289.5 228v2M290.5 227v1M291.5 226v1M292.5 226v1M293.5 225v1M294.5 226v2M295.5 228v3M296.5 231v3M297.5 231v2M298.5 230v1M299.5 229v1M300.5 228v1M301.5 226v2M302.5 225v3M303.5 228v4M304.5 232v2M305.5 234v1M306.5 234v1M307.5 235v1M308.5 234v1M309.5 233v1M310.5 234v1M311.5 233v2M312.5 231v2M313.5 231v4M314.5 235v4M315.5 237v1M316.5 237v1M317.5 238v1M318.5 239v1M319.5 240v2M320.5 242v1M321.5 241v1M322.5 241v1M323.5 240v1M324.5 240v1M325.5 241v2M326.5 243v1M327.5 244v1M328.5 245v1M329.5 246v2M330.5 248v1M331.5 249v1M332.5 249v1M333.5 249v1M334.5 249v1M335.5 250v1M336.5 250v1M337.5 251v2M338.5 253v2M339.5 255v7M340.5 262v10M341.5 269v8M342.5 253v16M343.5 244v9M344.5 252v18M345.5 270v15M346.5 285v5M347.5 290v1M348.5 290v1M349.5 288v2M350.5 289v2M351.5 291v1M352.5 292v1M353.5 293v1M354.5 292v1M355.5 291v1M356.5 289v2M357.5 288v1M358.5 288v1M359.5 288v1M360.5 288v2M361.5 286v2M362.5 284v2M363.5 283v1M364.5 281v2M365.5 282v2M366.5 284v1M367.5 285v1M368.5 286v1M369.5 287v1M370.5 287v1M371.5 286v3M372.5 282v4M373.5 278v4M374.5 275v3M375.5 272v3M376.5 270v2M377.5 267v3M378.5 265v2M379.5 264v1M380.5 263v1M381.5 262v1M382.5 263v2M383.5 265v1M384.5 266v2M385.5 263v3M386.5 261v2M387.5 261v1M388.5 260v2M389.5 258v2M390.5 259v1M391.5 259v1M392.5 260v2M393.5 262v2M394.5 259v4M395.5 254v5M396.5 243v11M397.5 239v4M398.5 237v5M399.5 241v10M400.5 251v3M401.5 247v9M402.5 239v8M403.5 237v2M404.5 238v1M405.5 239v3M406.5 242v2M407.5 244v1M408.5 245v1M409.5 246v3M410.5 249v2M411.5 250v1M412.5 250v1M413.5 248v2M414.5 246v2M415.5 244v2M416.5 243v2M417.5 245v3M418.5 248v6M419.5 254v5M420.5 259v1M421.5 260v1M422.5 260v1M423.5 254v6M424.5 253v1M425.5 254v3M426.5 257v2M427.5 259v6M428.5 265v4M429.5 268v4M430.5 263v5M431.5 264v1M432.5 265v3M433.5 268v4M434.5 268v2M435.5 264v4M436.5 260v4M437.5 258v2M438.5 256v2M439.5 255v2M440.5 257v3M441.5 260v5M442.5 265v4M443.5 269v1M444.5 270v1M445.5 271v2M446.5 270v2M447.5 269v1M448.5 270v2M449.5 270v1M450.5 270v1M451.5 271v1M452.5 271v1M453.5 272v1M454.5 272v1M455.5 273v2M456.5 275v1M457.5 276v1M458.5 277v1M459.5 278v2M460.5 280v2M461.5 279v2M462.5 278v1M463.5 277v1M464.5 275v2M465.5 273v2M466.5 270v3M467.5 268v2M468.5 270v3M469.5 273v3M470.5 276v2M471.5 275v2M472.5 274v1M473.5 273v1M474.5 273v1M475.5 274v1M476.5 274v1M477.5 274v1M478.5 275v1M479.5 276v1M480.5 274v2M481.5 273v1M482.5 273v1M483.5 273v1M484.5 273v1M485.5 272v1M486.5 270v2M487.5 268v2M488.5 266v2M489.5 265v1M490.5 266v2M491.5 266v1M492.5 265v1M493.5 264v1M494.5 264v1M495.5 263v1M496.5 262v1M497.5 260v2M498.5 259v1M499.5 257v2M500.5 255v2M501.5 253v2M502.5 253v1M503.5 253v1M504.5 254v2M505.5 256v2M506.5 258v2M507.5 260v1M508.5 261v1M509.5 262v1M510.5 263v2M511.5 262v2M512.5 261v1M513.5 260v1M514.5 259v1M515.5 259v1M516.5 260v2M517.5 259v2M518.5 257v2M519.5 255v2M520.5 256v1M521.5 257v2M522.5 259v3M523.5 259v2M524.5 258v1M525.5 257v1M526.5 257v1M527.5 257v1M528.5 257v1M529.5 257v1M530.5 257v1M531.5 258v1M532.5 259v1M533.5 260v1M534.5 260v1M535.5 259v1M536.5 258v1M537.5 259v1M538.5 259v1M539.5 258v1M540.5 258v1M541.5 257v1M542.5 257v1M543.5 257v1M544.5 257v1M545.5 257v1M546.5 257v1M547.5 257v1M548.5 257v1M549.5 257v1M550.5 257v1M551.5 256v1M552.5 256v1M553.5 257v1M554.5 257v1M555.5 258v2M556.5 258v1M557.5 258v1M558.5 257v1M559.5 257v1M560.5 257v1M561.5 258v1M562.5 258v1M563.5 259v1M564.5 259v1M565.5 259v1M566.5 259v1M567.5 259v1M568.5 259v1M569.5 260v1M570.5 260v1M571.5 259v1M572.5 258v1M573.5 259v1M574.5 260v1M575.5 259v1M576.5 259v1M577.5 260v1M578.5 259v3M579.5 255v4M580.5 256v1M581.5 257v3M582.5 260v4M583.5 264v2M584.5 266v1M585.5 265v1M586.5 264v1M587.5 263v1M588.5 262v1M589.5 260v2M590.5 259v1M591.5 260v1M592.5 261v1M593.5 262v1M594.5 262v1M595.5 260v2M596.5 258v2M597.5 256v2M598.5 257v2M599.5 259v1M600.5 260v1M601.5 261v1M602.5 261v1M603.5 261v1M604.5 262v1M605.5 262v1M606.5 263v1M607.5 264v1M608.5 263v1M609.5 263v1M610.5 262v1M611.5 261v1M612.5 260v1M613.5 259v1M614.5 260v1M615.5 261v1M616.5 260v1M617.5 259v1M618.5 260v1M619.5 260v1M620.5 259v1" fill="none" stroke="#c000ff" stroke-width="1" shape-rendering="crispEdges"/>
<g stroke="#000" stroke-width="1" shape-rendering="crispEdges" fill="none">
<rect x="48.5" y="38.5" width="573" height="415"/>
<path d="M49 79.5 h4 M621 79.5 h-4"/>
<path d="M49 162.5 h4 M621 162.5 h-4"/>
<path d="M49 245.5 h4 M621 245.5 h-4"/>
<path d="M49 328.5 h4 M621 328.5 h-4"/>
<path d="M49 411.5 h4 M621 411.5 h-4"/>
<path d="M154.5 453 v-4 M154.5 39 v4"/>
<path d="M260.5 453 v-4 M260.5 39 v4"/>
<path d="M366.5 453 v-4 M366.5 39 v4"/>
<path d="M472.5 453 v-4 M472.5 39 v4"/>
<path d="M579.5 453 v-4 M579.5 39 v4"/>
</g>
<text x="41.5" y="83.8" text-anchor="end">4000</text>
<text x="41.5" y="166.8" text-anchor="end">2000</text>
<text x="41.5" y="249.8" text-anchor="end">0</text>
<text x="41.5" y="332.8" text-anchor="end">−2000</text>
<text x="41.5" y="415.8" text-anchor="end">−4000</text>
<text x="50.0" y="470.8" text-anchor="middle">0</text>
<text x="156.0" y="470.8" text-anchor="middle">100</text>
<text x="262.0" y="470.8" text-anchor="middle">200</text>
<text x="368.0" y="470.8" text-anchor="middle">300</text>
<text x="474.0" y="470.8" text-anchor="middle">400</text>
<text x="581.0" y="470.8" text-anchor="middle">500</text>
<text x="333.5" y="22.5" text-anchor="middle">p4820_19</text>
<text class="k" x="574.5" y="52.5" text-anchor="end" xml:space="preserve">line 1</text>
<path d="M581 48.5 H610" stroke="#ff0000" stroke-width="1" shape-rendering="crispEdges"/>
<text class="k" x="574.5" y="65.5" text-anchor="end" xml:space="preserve">line 2</text>
<path d="M581 61.5 H610" stroke="#00c000" stroke-width="1" shape-rendering="crispEdges"/>
<text class="k" x="574.5" y="78.5" text-anchor="end" xml:space="preserve">line 3</text>
<path d="M581 74.5 H610" stroke="#0080ff" stroke-width="1" shape-rendering="crispEdges"/>
<text class="k" x="574.5" y="91.5" text-anchor="end" xml:space="preserve">line 4</text>
<path d="M581 87.5 H610" stroke="#c000ff" stroke-width="1" shape-rendering="crispEdges"/>
</svg></body></html>
